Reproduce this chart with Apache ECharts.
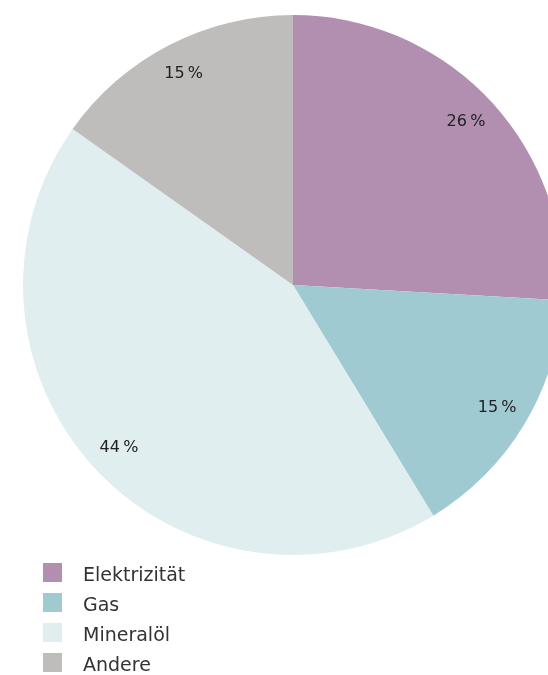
<!DOCTYPE html>
<html><head><meta charset="utf-8">
<script src="https://cdn.jsdelivr.net/npm/echarts@6/dist/echarts.min.js"></script>
<style>html,body{margin:0;padding:0;background:#fff}#c{width:548px;height:675px}</style>
</head><body><div id="c"></div>
<script>
const categories = ['Elektrizität', 'Gas', 'Mineralöl', 'Andere'];
const values = [25.9, 15.4, 43.5, 15.2];
const labels = ['26', '15', '44', '15'];
const colors = ['#b28fb0', '#a0cad2', '#e0eef0', '#bfbdbc'];

const data = categories.map((n, i) => ({ name: n, value: values[i], itemStyle: { color: colors[i] } }));
const chart = echarts.init(document.getElementById('c'));
chart.setOption({
  animation: false,
  legend: {
    orient: 'vertical', left: 43, top: 563, height: 140, padding: 0,
    itemWidth: 19, itemHeight: 19, itemGap: 7.5, icon: 'rect',
    formatter: '{a|{name}}',
    textStyle: {
      fontFamily: 'DejaVu Sans', fontSize: 19, color: '#333', padding: [0, 0, 0, 16],
      rich: { a: { fontFamily: 'DejaVu Sans', fontSize: 19, color: '#333', padding: [7, 0, 0, 0] } }
    },
    data: categories
  },
  series: [
    {
      type: 'pie', center: [293, 285], radius: [0, 270], startAngle: 90, clockwise: true,
      data: data, label: { show: false }, labelLine: { show: false }, silent: true
    },
    {
      type: 'pie', center: [293, 285], radius: [200, 270], startAngle: 90, clockwise: true,
      data: data.map(d => ({ name: d.name, value: d.value, itemStyle: { color: 'rgba(0,0,0,0)' } })),
      label: { show: true, position: 'inside', formatter: p => labels[p.dataIndex] + '\u2009%', fontFamily: 'DejaVu Sans', fontSize: 16, color: '#222' },
      labelLine: { show: false }, silent: true, legendHoverLink: false
    }
  ]
});
</script></body></html>
